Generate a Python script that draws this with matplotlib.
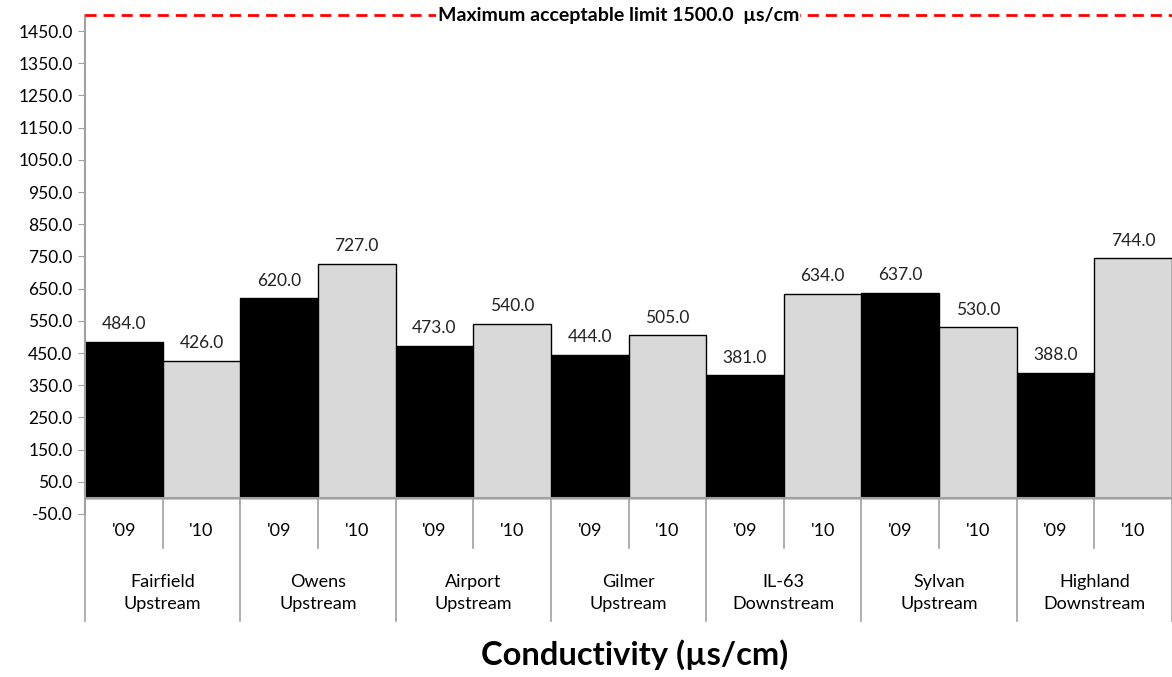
import matplotlib.pyplot as plt
import numpy as np

plt.rcParams['font.family'] = ['Lato', 'DejaVu Sans']

sites = ['Fairfield\nUpstream', 'Owens\nUpstream', 'Airport\nUpstream', 'Gilmer\nUpstream',
         'IL-63\nDownstream', 'Sylvan\nUpstream', 'Highland\nDownstream']
years = ["'09", "'10"]
vals_09 = [484.0, 620.0, 473.0, 444.0, 381.0, 637.0, 388.0]
vals_10 = [426.0, 727.0, 540.0, 505.0, 634.0, 530.0, 744.0]
limit = 1500.0

fig = plt.figure(figsize=(11.72, 6.77), dpi=100)
ax = fig.add_axes([85 / 1172, 163 / 677, 1 - 85 / 1172, (514 - 15) / 677])

n = len(sites)
x09 = np.arange(n) * 2 + 0.5
x10 = np.arange(n) * 2 + 1.5
b1 = ax.bar(x09, vals_09, width=1.0, color='black', edgecolor='black', linewidth=1)
b2 = ax.bar(x10, vals_10, width=1.0, color='#d9d9d9', edgecolor='black', linewidth=1)
for bars in (b1, b2):
    for r in bars:
        ax.annotate('%.1f' % r.get_height(), (r.get_x() + r.get_width() / 2, r.get_height()),
                    xytext=(0, 7), textcoords='offset points', ha='center', va='bottom',
                    fontsize=12.5, color='#222222')

ax.set_xlim(0, 2 * n)
ax.set_ylim(-50, 1500)
ax.set_yticks(np.arange(-50, 1451, 100))
ax.set_yticklabels(['%.1f' % t for t in np.arange(-50, 1451, 100)], fontsize=12.5)
ax.tick_params(axis='y', length=5, color='#a0a0a0', pad=4)
ax.set_xticks([])

for s in ['top', 'right', 'bottom']:
    ax.spines[s].set_visible(False)
ax.spines['left'].set_color('#a0a0a0')
ax.spines['left'].set_linewidth(1.5)

# category axis at zero
gray = '#a0a0a0'
ax.plot([0, 2 * n], [0, 0], color=gray, lw=1.5, clip_on=False, zorder=3)
for i in range(n):
    ax.plot([2 * i + 1] * 2, [0, -155], color=gray, lw=1.2, clip_on=False)
    ax.text(x09[i], -102, years[0], ha='center', va='center', fontsize=13)
    ax.text(x10[i], -102, years[1], ha='center', va='center', fontsize=13)
    ax.text(2 * i + 1, -296, sites[i], ha='center', va='center', fontsize=13, linespacing=1.45)
for i in range(n + 1):
    ax.plot([2 * i] * 2, [0, -382], color=gray, lw=1.2, clip_on=False)

# limit line
ax.plot([0, 2 * n], [limit, limit], color='red', ls=(0, (4, 2.5)), lw=2, clip_on=False, zorder=4)
ax.text(6.87, limit, 'Maximum acceptable limit 1500.0  µs/cm', ha='center', va='center',
        fontsize=14, fontweight='bold', zorder=5,
        bbox=dict(facecolor='white', edgecolor='none', pad=1))

fig.text(0.5 * (85 + 1172) / 1172 + 0.005, 1 - 655 / 677, 'Conductivity (µs/cm)', ha='center', va='center',
         fontsize=23.5, fontweight='bold')

fig.savefig('out.png', dpi=100)
